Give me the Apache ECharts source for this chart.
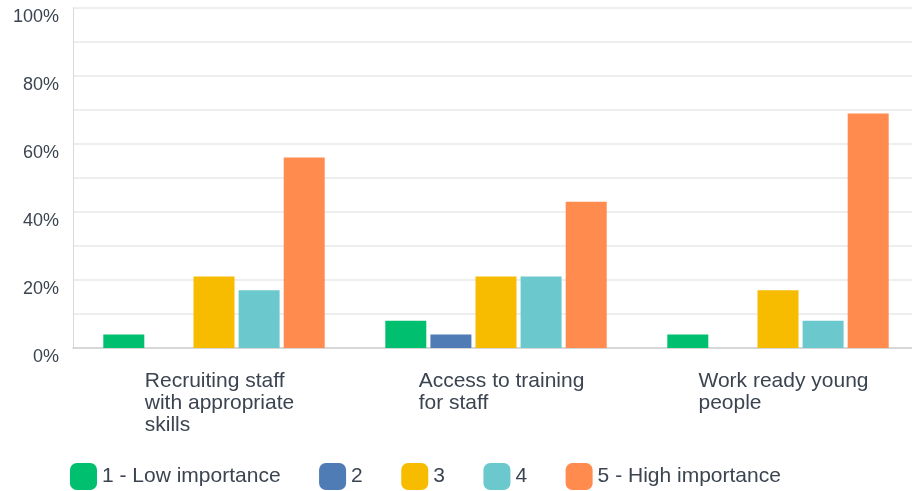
<!DOCTYPE html>
<html>
<head>
<meta charset="utf-8">
<script src="https://cdn.jsdelivr.net/npm/echarts@6/dist/echarts.min.js"></script>
<style>
html,body{margin:0;padding:0;background:#fff;}
#chart{width:912px;height:491px;}
</style>
</head>
<body>
<div id="chart"></div>
<script>
const categories = ["Recruiting staff\nwith appropriate\nskills", "Access to training\nfor staff", "Work ready young\npeople"];
const seriesNames = ["1 - Low importance", "2", "3", "4", "5 - High importance"];
const low = [4, 8, 4];
const two = [0, 4, 0];
const three = [21, 21, 17];
const four = [17, 21, 8];
const high = [56, 43, 69];
const colors = ["#00BF6F", "#507CB6", "#F7BC00", "#6BC8CD", "#FF8B4F"];
const yTicks = [0, 20, 40, 60, 80, 100];

const values = [low, two, three, four, high];
const textColor = "#3B4450";
const font = "Liberation Sans, Arial, sans-serif";

const chart = echarts.init(document.getElementById('chart'));
chart.setOption({
  animation: false,
  textStyle: { fontFamily: font },
  grid: { left: 73, width: 846, top: 8, height: 340, containLabel: false, outerBoundsMode: 'none' },
  legend: {
    left: 65, top: 458,
    itemWidth: 27, itemHeight: 27, itemGap: 38.5,
    icon: 'roundRect',
    textStyle: { fontSize: 21, color: textColor, fontFamily: font },
    data: seriesNames
  },
  xAxis: {
    type: 'category',
    data: categories,
    axisLine: { lineStyle: { color: '#D0D0D0', width: 1.5 } },
    axisTick: { show: false },
    axisLabel: {
      interval: 0,
      margin: 22,
      align: 'center',
      padding: [0, 0, 0, 11],
      formatter: function (v) {
        return v.split('\n').map(function (l) { return '{a|' + l + '}'; }).join('\n');
      },
      rich: { a: { fontSize: 21, lineHeight: 22, color: textColor, align: 'left', fontFamily: font } }
    }
  },
  yAxis: {
    type: 'value',
    min: 0, max: 100, interval: 10,
    axisLine: { show: true, lineStyle: { color: '#D8D8D8', width: 1 } },
    axisTick: { show: false },
    splitLine: { lineStyle: { color: '#E8E8E8', width: 1.5 } },
    axisLabel: {
      margin: 14,
      fontSize: 18,
      lineHeight: 18,
      color: textColor,
      verticalAlign: 'top',
      formatter: function (v) { return yTicks.indexOf(v) >= 0 ? v + '%' : ''; }
    }
  },
  series: seriesNames.map(function (n, i) {
    return {
      name: n, type: 'bar', data: values[i],
      barWidth: 41, barGap: '10%',
      itemStyle: { color: colors[i] }
    };
  })
});
</script>
</body>
</html>
